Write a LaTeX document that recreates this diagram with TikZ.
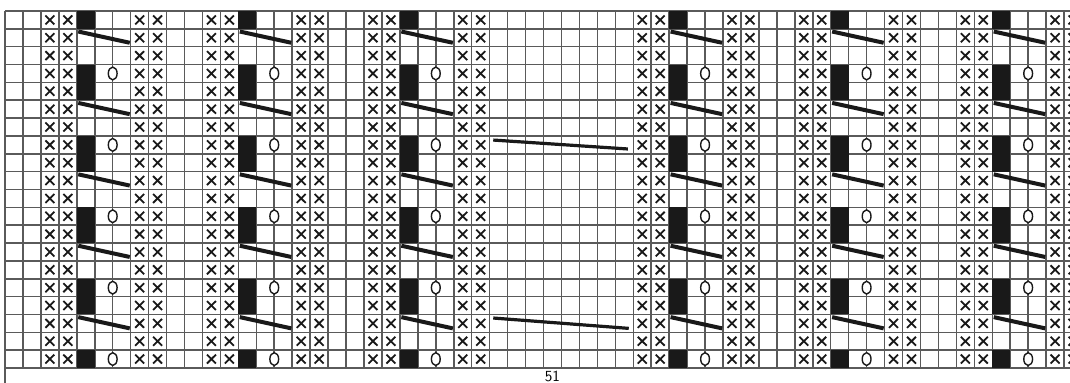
\documentclass[tikz,border=0pt]{standalone}
\usepackage{tikz}
\usetikzlibrary{arrows.meta,positioning}
\definecolor{gridgray}{RGB}{90,90,90}
\definecolor{stitchblack}{RGB}{25,25,25}

\begin{document}
\begin{tikzpicture}[x=4.4875mm,y=-4.4625mm,
  knitgrid/.style={gridgray,line width=0.38mm},
  purlcross/.style={stitchblack,line width=0.45mm},
  yarnover/.style={stitchblack,line width=0.35mm,fill=white},
  crossline/.style={stitchblack,line width=1mm},
  longcross/.style={stitchblack,line width=0.8mm}]
\useasboundingbox (-0.2786,-0.6162) rectangle (59.331,20.840);
\clip (-0.2786,-0.6162) rectangle (59.331,20.840);
\foreach \i in {0,...,60} \draw[knitgrid] (\i,0) -- (\i,20);
\foreach \j in {0,...,20} \draw[knitgrid] (0,\j) -- (60,\j);
\draw[knitgrid] (0,20) -- (0,21);
\foreach \c in {2,11,20,35,44,53} {
  \foreach \dx in {0,1,5,6} \foreach \r in {0,...,19}
    \draw[purlcross] (\c+\dx+0.25,\r+0.25) -- (\c+\dx+0.75,\r+0.75)
      (\c+\dx+0.25,\r+0.75) -- (\c+\dx+0.75,\r+0.25);
  \fill[stitchblack] (\c+2,0) rectangle (\c+3,1);
  \fill[stitchblack] (\c+2,19) rectangle (\c+3,20);
  \foreach \r in {3,7,11,15} \fill[stitchblack] (\c+2,\r) rectangle (\c+3,\r+2);
  \foreach \r in {3,7,11,15,19}
    \draw[yarnover] (\c+4,\r+0.5) ellipse [x radius=1.1mm,y radius=1.6mm];
  \foreach \r in {1,5,9,13,17}
    \draw[crossline] (\c+2.08,\r+0.15) -- (\c+4.95,\r+0.78);
}
\draw[longcross] (27.2,7.23) -- (34.7,7.73);
\draw[longcross] (27.2,17.2) -- (34.75,17.78);
\node[anchor=north,inner sep=0pt,font=\sffamily\fontsize{11}{13}\selectfont] (chartnum) at (30.5,20.15) {51};
\end{tikzpicture}
\end{document}
